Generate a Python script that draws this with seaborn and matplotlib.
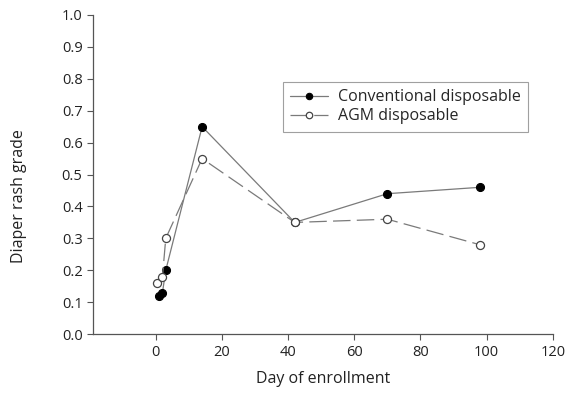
import matplotlib
matplotlib.use("Agg")
import matplotlib.pyplot as plt
import seaborn as sns
import pandas as pd
import numpy as np

days = [1, 2, 3, 14, 42, 70, 98]
conventional = [0.12, 0.13, 0.20, 0.65, 0.35, 0.44, 0.46]
agm_days = [0.5, 2, 3, 14, 42, 70, 98]
agm = [0.16, 0.18, 0.30, 0.55, 0.35, 0.36, 0.28]
x_ticks = [0, 20, 40, 60, 80, 100, 120]
y_ticks = [0.0, 0.1, 0.2, 0.3, 0.4, 0.5, 0.6, 0.7, 0.8, 0.9, 1.0]

sns.set_style("ticks")
plt.rcParams['font.family'] = ['Open Sans', 'DejaVu Sans']

df_c = pd.DataFrame({"day": days, "grade": conventional})
df_a = pd.DataFrame({"day": agm_days, "grade": agm})

fig = plt.figure(figsize=(5.74, 3.94), dpi=100)
ax = fig.add_axes([0.162, 0.152, 0.801, 0.810])

sns.lineplot(data=df_c, x="day", y="grade", ax=ax, color="#7a7a7a", lw=0.9,
             marker="o", markersize=5.8, markerfacecolor="black",
             markeredgecolor="black", label="Conventional disposable")
sns.lineplot(data=df_a, x="day", y="grade", ax=ax, color="#7a7a7a", lw=0.9,
             marker="o", markersize=5.8, markerfacecolor="white",
             markeredgecolor="#444444", markeredgewidth=0.9,
             dashes=False, label="AGM disposable")
ax.lines[1].set_dashes([14, 5])

ax.set_xlim(-19, 120)
ax.set_ylim(0, 1.0)
ax.set_xticks(x_ticks)
ax.set_yticks(y_ticks)
ax.set_yticklabels([f"{v:.1f}" for v in y_ticks])
ax.tick_params(labelsize=10.5, length=4, width=0.8, color="#555555",
               labelcolor="#222222")
for s in ["top", "right"]:
    ax.spines[s].set_visible(False)
for s in ["left", "bottom"]:
    ax.spines[s].set_color("#555555")
    ax.spines[s].set_linewidth(0.9)

ax.set_xlabel("Day of enrollment", fontsize=11.5, color="#222222", labelpad=8)
ax.set_ylabel("Diaper rash grade", fontsize=11.5, color="#222222")
ax.yaxis.set_label_coords(-0.143, 0.433)

leg = ax.legend(loc="upper left", bbox_to_anchor=(0.395, 0.815), fontsize=11.5,
                frameon=True, fancybox=False, handlelength=2.4,
                handletextpad=0.6, borderpad=0.45, labelspacing=0.2,
                markerscale=0.8)
leg.get_frame().set_edgecolor("#888888")
leg.get_frame().set_linewidth(0.8)

fig.savefig("out.png", dpi=100)
